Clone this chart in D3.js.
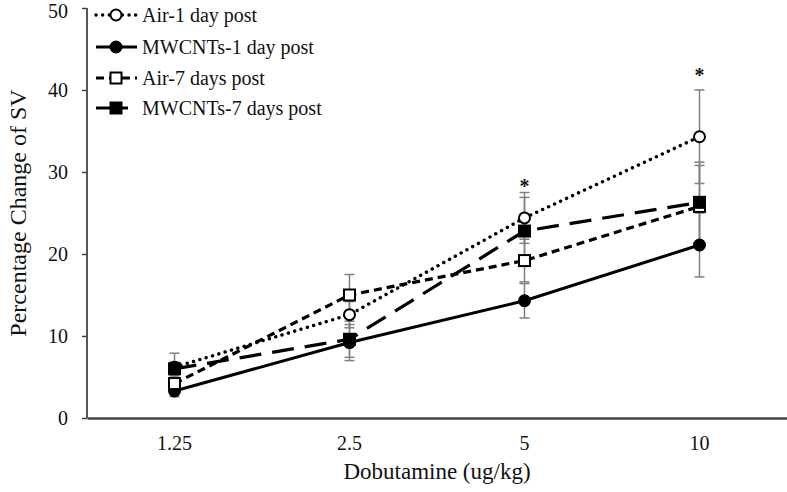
<!DOCTYPE html>
<html><head><meta charset="utf-8">
<script src="https://cdn.jsdelivr.net/npm/d3@7/dist/d3.min.js"></script>
<style>body{margin:0;background:#fff}svg{display:block}</style>
</head><body><svg id="c" width="787" height="492"></svg>
<script>
const categories = ["1.25", "2.5", "5", "10"];
const yTicks = [0, 10, 20, 30, 40, 50];
const seriesNames = ["Air-1 day post", "MWCNTs-1 day post", "Air-7 days post", "MWCNTs-7 days post"];
const air1 = [6.2, 12.6, 24.4, 34.3];
const air1Err = [1.7, 1.6, 3.1, 5.7];
const mw1 = [3.3, 9.2, 14.3, 21.1];
const mw1Err = [0.7, 2.2, 2.1, 3.9];
const air7 = [4.2, 15.0, 19.2, 25.8];
const air7Err = [0.8, 2.5, 2.6, 5.0];
const mw7 = [6.0, 9.6, 22.8, 26.3];
const mw7Err = [0.8, 2.2, 4.1, 4.9];
const sigMarks = [null, null, "*", "*"];
const sigY = [null, null, 27.4, 41.0];

const FONT = "'Liberation Serif', Tinos, 'DejaVu Serif', serif";
const svg = d3.select("#c");
const x = d3.scaleBand().domain(categories).range([87, 787]);
const y = d3.scaleLinear().domain([0, 50]).range([418, 8]);
const cx = c => x(c) + x.bandwidth() / 2;

const series = [
  {name: seriesNames[0], v: air1, e: air1Err, dash: "0.1,6.5", cap: "round", w: 3.4, shape: "circle", fill: "#fff"},
  {name: seriesNames[1], v: mw1, e: mw1Err, dash: null, cap: "butt", w: 3, shape: "circle", fill: "#000"},
  {name: seriesNames[2], v: air7, e: air7Err, dash: "8,5", cap: "butt", w: 3.2, shape: "square", fill: "#fff"},
  {name: seriesNames[3], v: mw7, e: mw7Err, dash: "22,11", cap: "butt", w: 3.2, shape: "square", fill: "#000"}
];

function styleText(sel, size) {
  sel.style("font-family", FONT).style("font-size", size + "px").style("fill", "#111");
}

// axes
const yAxis = d3.axisLeft(y).tickValues(yTicks).tickSize(5).tickPadding(14);
const gy = svg.append("g").attr("transform", "translate(87,0)").call(yAxis);
gy.select(".domain").attr("stroke", "#444").attr("stroke-width", 1.8).attr("d", "M0,8V418");
gy.selectAll(".tick line").attr("stroke", "#444").attr("stroke-width", 1.5);
styleText(gy.selectAll(".tick text"), 20);
gy.selectAll(".tick").filter(d => d === 50).select("text").attr("dy", "0.45em");

const xAxis = d3.axisBottom(x).tickSize(0).tickPadding(18);
const gx = svg.append("g").attr("transform", "translate(0,418)").call(xAxis);
gx.select(".domain").attr("stroke", "#444").attr("stroke-width", 2.5);
styleText(gx.selectAll(".tick text"), 20);

const plotCx = (x.range()[0] + x.range()[1]) / 2;
const plotCy = (y.range()[0] + y.range()[1]) / 2;
styleText(svg.append("text").attr("x", plotCx).attr("y", 479).attr("text-anchor", "middle").text("Dobutamine (ug/kg)"), 23);
styleText(svg.append("text").attr("transform", `translate(26,${plotCy}) rotate(-90)`).attr("text-anchor", "middle").text("Percentage Change of SV"), 24);

// error bars
const eg = svg.append("g").attr("stroke", "#808080").attr("stroke-width", 1.5);
series.forEach(s => {
  s.v.forEach((v, i) => {
    const px = cx(categories[i]);
    eg.append("line").attr("x1", px).attr("x2", px).attr("y1", y(v - s.e[i])).attr("y2", y(v + s.e[i]));
    [v - s.e[i], v + s.e[i]].forEach(t => eg.append("line").attr("x1", px - 5).attr("x2", px + 5).attr("y1", y(t)).attr("y2", y(t)));
  });
});

// lines
const line = d3.line().x((d, i) => cx(categories[i])).y(d => y(d));
series.forEach(s => {
  svg.append("path").datum(s.v).attr("d", line).attr("fill", "none").attr("stroke", "#000")
    .attr("stroke-width", s.w).attr("stroke-dasharray", s.dash).attr("stroke-linecap", s.cap);
});

function marker(g, shape, fill, px, py) {
  if (shape === "circle") g.append("circle").attr("cx", px).attr("cy", py).attr("r", 5.5).attr("fill", fill).attr("stroke", "#000").attr("stroke-width", 2);
  else g.append("rect").attr("x", px - 5.5).attr("y", py - 5.5).attr("width", 11).attr("height", 11).attr("fill", fill).attr("stroke", "#000").attr("stroke-width", 2);
}
series.forEach(s => s.v.forEach((v, i) => marker(svg, s.shape, s.fill, cx(categories[i]), y(v))));

// significance marks
sigMarks.forEach((m, i) => {
  if (m) styleText(svg.append("text").attr("x", cx(categories[i])).attr("y", y(sigY[i])).attr("text-anchor", "middle").style("font-weight", "bold").text(m), 20);
});

// legend
const lg = svg.append("g");
series.forEach((s, i) => {
  const ly = [15, 47, 78, 108][i];
  lg.append("line").attr("x1", 96).attr("x2", 137).attr("y1", ly).attr("y2", ly).attr("stroke", "#000")
    .attr("stroke-width", s.w).attr("stroke-dasharray", i === 3 ? "20,6,6" : s.dash).attr("stroke-linecap", s.cap);
  marker(lg, s.shape, s.fill, 116, ly);
  styleText(lg.append("text").attr("x", 142).attr("y", ly + 6.5).text(s.name), 20);
});
</script></body></html>
